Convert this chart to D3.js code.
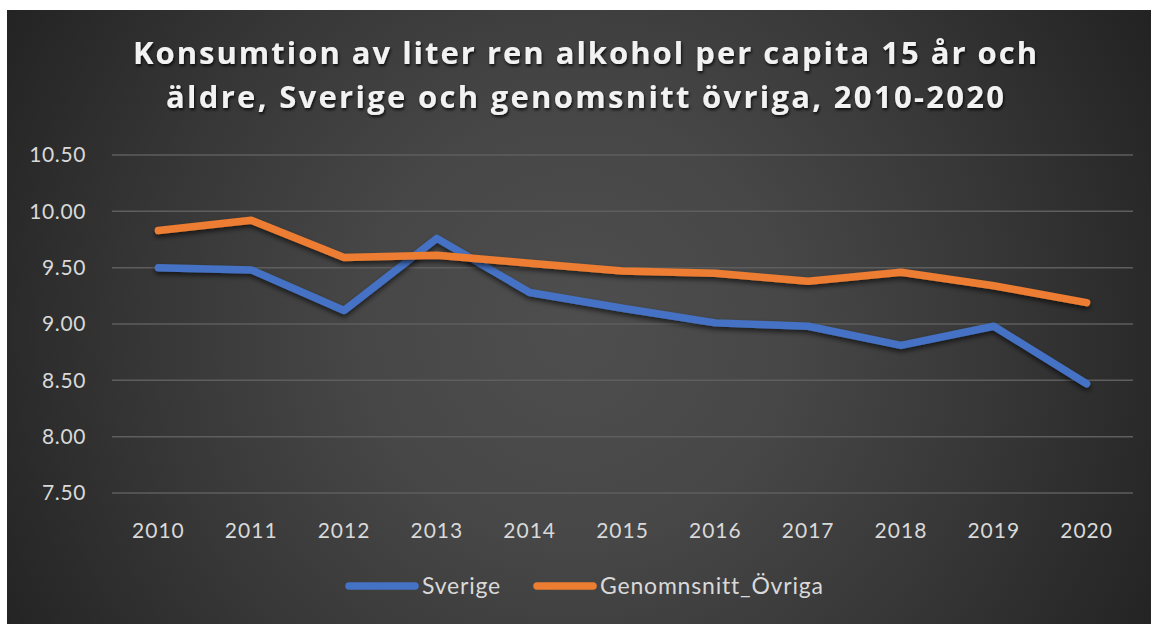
<!DOCTYPE html>
<html>
<head>
<meta charset="utf-8">
<script src="https://cdn.jsdelivr.net/npm/d3@7"></script>
<style>
  body { margin: 0; background: #fff; }
  svg { display: block; }
</style>
</head>
<body>
<div id="chart-area"></div>
<script>
var years = ["2010", "2011", "2012", "2013", "2014", "2015", "2016", "2017", "2018", "2019", "2020"];
var sverige = [9.5, 9.48, 9.12, 9.76, 9.28, 9.14, 9.01, 8.98, 8.81, 8.98, 8.47];
var ovriga = [9.83, 9.92, 9.59, 9.61, 9.54, 9.47, 9.45, 9.38, 9.46, 9.34, 9.19];
var yTicks = [7.5, 8.0, 8.5, 9.0, 9.5, 10.0, 10.5];
var seriesNames = ["Sverige", "Genomnsnitt_Övriga"];
var titleLines = [
  "Konsumtion av liter ren alkohol per capita 15 år och",
  "äldre, Sverige och genomsnitt övriga, 2010-2020"
];

var W = 1151, H = 624;
var margin = { left: 112, right: 18, top: 155, bottom: 131 };
var width = W - margin.left - margin.right;
var height = H - margin.top - margin.bottom;

var svg = d3.select("#chart-area").append("svg")
  .attr("width", W).attr("height", H);

var defs = svg.append("defs");
var grad = defs.append("radialGradient")
  .attr("id", "bg").attr("gradientUnits", "userSpaceOnUse")
  .attr("cx", 575).attr("cy", 330).attr("r", 700);
grad.append("stop").attr("offset", "0%").attr("stop-color", "#4e4e4e");
grad.append("stop").attr("offset", "30%").attr("stop-color", "#474747");
grad.append("stop").attr("offset", "60%").attr("stop-color", "#373737");
grad.append("stop").attr("offset", "100%").attr("stop-color", "#1f1f1f");

var shadow = defs.append("filter").attr("id", "shadow")
  .attr("x", "-10%").attr("y", "-20%").attr("width", "120%").attr("height", "150%");
shadow.append("feDropShadow").attr("dx", 0).attr("dy", 3).attr("stdDeviation", 2.5)
  .attr("flood-color", "#000").attr("flood-opacity", 0.6);

var tshadow = defs.append("filter").attr("id", "tshadow")
  .attr("x", "-5%").attr("y", "-30%").attr("width", "110%").attr("height", "170%");
tshadow.append("feDropShadow").attr("dx", 1).attr("dy", 2).attr("stdDeviation", 1.5)
  .attr("flood-color", "#000").attr("flood-opacity", 0.8);

svg.append("rect").attr("x", 7).attr("y", 10)
  .attr("width", W - 7).attr("height", H - 10)
  .attr("fill", "url(#bg)");

// title
svg.append("g").attr("filter", "url(#tshadow)")
  .selectAll("text").data(titleLines).enter().append("text")
  .attr("x", 585)
  .attr("y", function (d, i) { return 64 + i * 44; })
  .attr("text-anchor", "middle")
  .attr("font-family", "Open Sans")
  .attr("font-weight", "bold")
  .attr("font-size", "31px")
  .attr("fill", "#f2f2f2")
  .attr("textLength", function (d, i) { return i === 0 ? 904 : 838; })
  .attr("lengthAdjust", "spacing")
  .text(function (d) { return d; });

var g = svg.append("g")
  .attr("transform", "translate(" + margin.left + "," + margin.top + ")");

var x = d3.scaleBand().domain(years).range([0, width]);
var y = d3.scaleLinear().domain([7.5, 10.5]).range([height, 0]);

// gridlines
g.append("g").selectAll("line").data(yTicks).enter().append("line")
  .attr("x1", 0).attr("x2", width)
  .attr("y1", function (d) { return y(d); })
  .attr("y2", function (d) { return y(d); })
  .attr("stroke", "#5e5e5e").attr("stroke-width", 1.5);

var yAxis = d3.axisLeft(y).tickValues(yTicks).tickSize(0).tickPadding(26)
  .tickFormat(d3.format(".2f"));
var ya = g.append("g").call(yAxis);
ya.select(".domain").remove();
ya.selectAll("text").attr("font-family", "Lato").attr("font-size", "21px")
  .attr("letter-spacing", "0.6px").attr("fill", "#d9d9d9");

var xAxis = d3.axisBottom(x).tickSize(0).tickPadding(30);
var xa = g.append("g").attr("transform", "translate(0," + height + ")").call(xAxis);
xa.select(".domain").remove();
xa.selectAll("text").attr("font-family", "Lato").attr("font-size", "21px")
  .attr("letter-spacing", "1px").attr("fill", "#d9d9d9");

var line = d3.line()
  .x(function (d, i) { return x(years[i]) + x.bandwidth() / 2; })
  .y(function (d) { return y(d); });

var colors = ["#4472c4", "#ed7d31"];
[sverige, ovriga].forEach(function (s, k) {
  g.append("path").datum(s)
    .attr("fill", "none")
    .attr("stroke", colors[k])
    .attr("stroke-width", 7.5)
    .attr("stroke-linecap", "round")
    .attr("stroke-linejoin", "round")
    .attr("filter", "url(#shadow)")
    .attr("d", line);
});

// legend
var legendX = [[349, 415], [537, 593]];
var textX = [422, 600];
var leg = svg.append("g");
seriesNames.forEach(function (name, k) {
  leg.append("line")
    .attr("x1", legendX[k][0]).attr("x2", legendX[k][1])
    .attr("y1", 586).attr("y2", 586)
    .attr("stroke", colors[k]).attr("stroke-width", 7.5)
    .attr("stroke-linecap", "round");
  leg.append("text")
    .attr("x", textX[k]).attr("y", 594)
    .attr("font-family", "Lato").attr("font-size", "23px")
    .attr("letter-spacing", "0.8px")
    .attr("fill", "#d9d9d9")
    .text(name);
});
</script>
</body>
</html>
